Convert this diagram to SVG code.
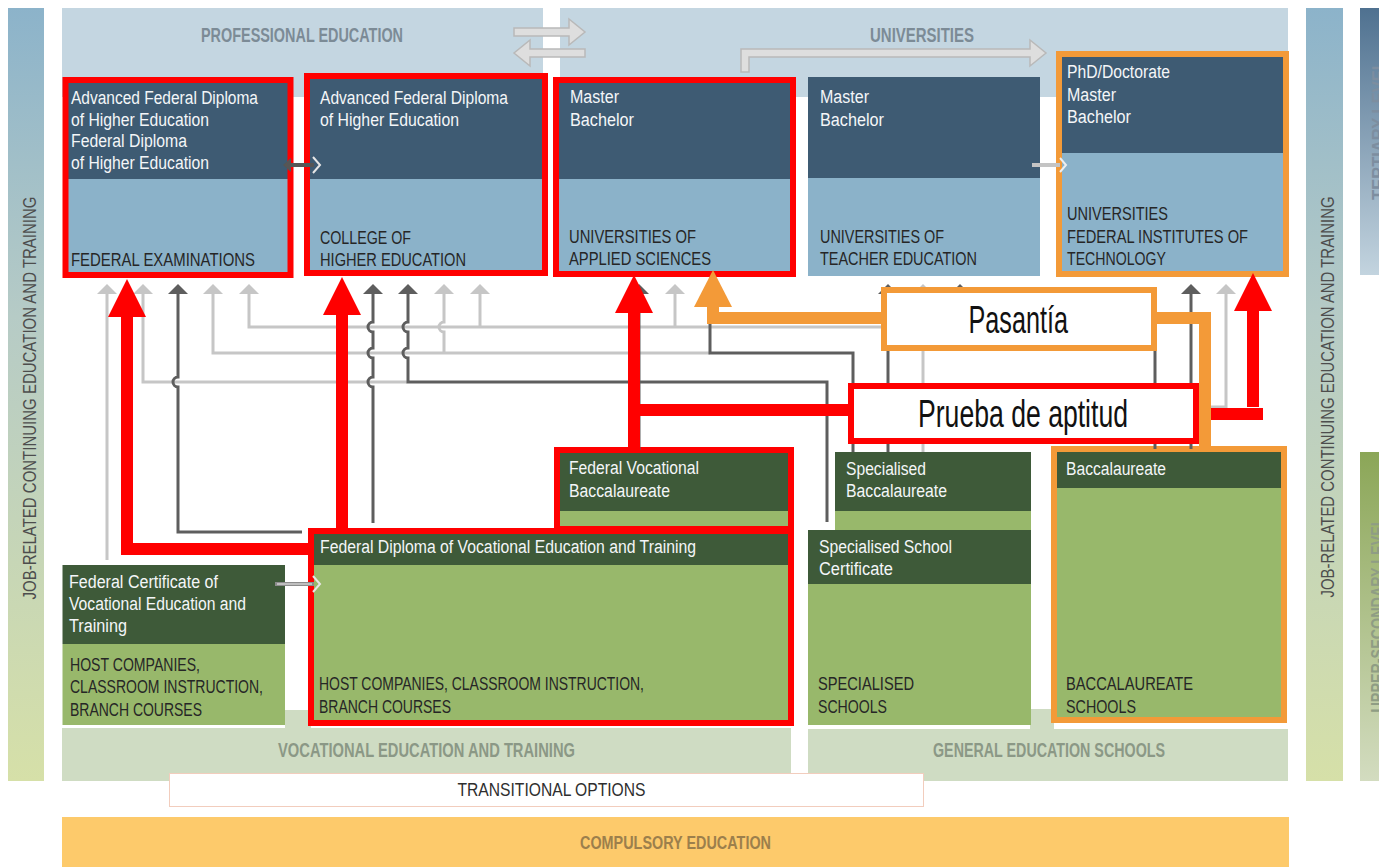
<svg xmlns="http://www.w3.org/2000/svg" width="1379" height="867" viewBox="0 0 1379 867">
<defs>
<linearGradient id="gSide" x1="0" y1="0" x2="0" y2="1">
<stop offset="0" stop-color="#8cb3ca"/><stop offset="0.4" stop-color="#b6cbc6"/><stop offset="1" stop-color="#d6e0a8"/>
</linearGradient>
<linearGradient id="gTert" x1="0" y1="0" x2="0" y2="1">
<stop offset="0" stop-color="#4f7190"/><stop offset="1" stop-color="#c3d4df"/>
</linearGradient>
<linearGradient id="gSec" x1="0" y1="0" x2="0" y2="1">
<stop offset="0" stop-color="#8ba657"/><stop offset="1" stop-color="#d3dcc0"/>
</linearGradient>
<marker id="ahL" markerUnits="userSpaceOnUse" markerWidth="12" markerHeight="22" refX="0" refY="10" orient="auto" overflow="visible"><path d="M0,0 L10,10 L0,20 Z" fill="#c6c6c6"/></marker>
<marker id="ahD" markerUnits="userSpaceOnUse" markerWidth="12" markerHeight="22" refX="0" refY="10" orient="auto" overflow="visible"><path d="M0,0 L10,10 L0,20 Z" fill="#5e5e5e"/></marker>
<marker id="ahR" markerUnits="userSpaceOnUse" markerWidth="40" markerHeight="40" refX="0" refY="19" orient="auto" overflow="visible"><path d="M0,0 L38,19 L0,38 Z" fill="#ff0000"/></marker>
<marker id="ahO" markerUnits="userSpaceOnUse" markerWidth="40" markerHeight="40" refX="0" refY="19" orient="auto" overflow="visible"><path d="M0,0 L37,19 L0,38 Z" fill="#f39a38"/></marker>
</defs>
<style>
text{font-family:"Liberation Sans",Arial,sans-serif}
.td{fill:#3e5b73}.tl{fill:#8bb2c9}.gd{fill:#3e5a39}.gl{fill:#98b86b}
.w{fill:#f4f6f8;font-size:18px}.k{fill:#262626;font-size:18px}
.hb{fill:#7c8b96;font-size:20px;font-weight:bold}.hg{fill:#8b9886;font-size:20px;font-weight:bold}
.side{fill:#4d4d4d;font-size:19px}
.red{fill:none;stroke:#ff0000}.org{fill:none;stroke:#f39a38}
.cl{fill:none;stroke:#c6c6c6;stroke-width:3}.cd{fill:none;stroke:#5e5e5e;stroke-width:3}
.big{fill:#111;font-size:38px}
</style>
<rect width="1379" height="867" fill="#ffffff"/>
<!-- side bars -->
<g id="side-left"><rect x="8" y="8" width="36" height="773" fill="url(#gSide)"/>
<text class="side" transform="translate(36,398) rotate(-90)" text-anchor="middle" textLength="403" lengthAdjust="spacingAndGlyphs">JOB-RELATED CONTINUING EDUCATION AND TRAINING</text></g>
<g id="side-right"><rect x="1306" y="8" width="37" height="773" fill="url(#gSide)"/>
<text class="side" transform="translate(1334,397) rotate(-90)" text-anchor="middle" textLength="401" lengthAdjust="spacingAndGlyphs">JOB-RELATED CONTINUING EDUCATION AND TRAINING</text></g>
<g id="level-tertiary"><rect x="1360" y="8" width="19" height="267" fill="url(#gTert)"/>
<text transform="translate(1385,130) rotate(-90)" text-anchor="middle" fill="#7d8ea0" font-size="18" font-weight="bold" textLength="140" lengthAdjust="spacingAndGlyphs">TERTIARY LEVEL</text></g>
<g id="level-upper-secondary"><rect x="1360" y="452" width="19" height="329" fill="url(#gSec)"/>
<text transform="translate(1384,615) rotate(-90)" text-anchor="middle" fill="#8f9d84" font-size="18" font-weight="bold" textLength="195" lengthAdjust="spacingAndGlyphs">UPPER-SECONDARY LEVEL</text></g>
<!-- bands -->
<g id="band-professional"><rect x="62" y="8" width="481" height="89" fill="#c4d6e1"/>
<text class="hb" x="201" y="42" textLength="202" lengthAdjust="spacingAndGlyphs">PROFESSIONAL EDUCATION</text></g>
<g id="band-universities"><rect x="560" y="8" width="728" height="89" fill="#c4d6e1"/>
<text class="hb" x="870" y="42" textLength="104" lengthAdjust="spacingAndGlyphs">UNIVERSITIES</text></g>
<g id="band-vet"><rect x="62" y="728" width="729" height="53" fill="#cfdcc3"/><rect x="285" y="710" width="26" height="20" fill="#cfdcc3"/>
<text class="hg" x="278" y="757" textLength="297" lengthAdjust="spacingAndGlyphs">VOCATIONAL EDUCATION AND TRAINING</text></g>
<g id="band-general"><rect x="808" y="729" width="480" height="52" fill="#cfdcc3"/><rect x="1030" y="709" width="24" height="22" fill="#cfdcc3"/>
<text class="hg" x="933" y="757" textLength="232" lengthAdjust="spacingAndGlyphs">GENERAL EDUCATION SCHOOLS</text></g>
<g id="transitional"><rect x="169.5" y="773.5" width="754" height="33" fill="#ffffff" stroke="#f2cdbd" stroke-width="1"/>
<text x="457.5" y="796" fill="#2e2e2e" font-size="18" textLength="188" lengthAdjust="spacingAndGlyphs">TRANSITIONAL OPTIONS</text></g>
<g id="compulsory"><rect x="62" y="817" width="1227" height="50" fill="#fdca6b"/>
<text x="580" y="849" fill="#9c7f4c" font-size="19" font-weight="bold" textLength="191" lengthAdjust="spacingAndGlyphs">COMPULSORY EDUCATION</text></g>
<!-- band arrows -->
<g id="band-arrows" fill="#dedede" stroke="#b9b9b9" stroke-width="1.5">
<polygon points="514,28 569,28 569,19 585,32 569,45 569,36 514,36"/>
<polygon points="585,49 530,49 530,40 514,53 530,66 530,57 585,57"/>
<path d="M741,72 L741,49 L1030,49 L1030,40 L1046,53 L1030,66 L1030,57 L749,57 L749,72 Z"/>
</g>
<!-- tertiary nodes -->
<g id="n-federal-exams">
<rect class="td" x="66" y="80" width="224" height="99"/><rect class="tl" x="66" y="179" width="224" height="96"/>
<text class="w" x="71" y="104" textLength="187" lengthAdjust="spacingAndGlyphs">Advanced Federal Diploma</text>
<text class="w" x="71" y="125.5" textLength="138" lengthAdjust="spacingAndGlyphs">of Higher Education</text>
<text class="w" x="71" y="147" textLength="116" lengthAdjust="spacingAndGlyphs">Federal Diploma</text>
<text class="w" x="71" y="168.5" textLength="138" lengthAdjust="spacingAndGlyphs">of Higher Education</text>
<text class="k" x="71" y="266" textLength="184" lengthAdjust="spacingAndGlyphs">FEDERAL EXAMINATIONS</text>
<rect class="red" x="65.5" y="80" width="225" height="195" stroke-width="6"/>
</g>
<g id="n-college">
<rect class="td" x="307" y="76" width="238" height="103"/><rect class="tl" x="307" y="179" width="238" height="95"/>
<text class="w" x="320" y="104" textLength="188" lengthAdjust="spacingAndGlyphs">Advanced Federal Diploma</text>
<text class="w" x="320" y="125.5" textLength="139" lengthAdjust="spacingAndGlyphs">of Higher Education</text>
<text class="k" x="320" y="244" textLength="91" lengthAdjust="spacingAndGlyphs">COLLEGE OF</text>
<text class="k" x="320" y="266" textLength="146" lengthAdjust="spacingAndGlyphs">HIGHER EDUCATION</text>
<rect class="red" x="307" y="76" width="238" height="197" stroke-width="6"/>
</g>
<g id="n-uas">
<rect class="td" x="556" y="80" width="237" height="99"/><rect class="tl" x="556" y="179" width="237" height="95"/>
<text class="w" x="570" y="103" textLength="49" lengthAdjust="spacingAndGlyphs">Master</text>
<text class="w" x="570" y="125.5" textLength="64" lengthAdjust="spacingAndGlyphs">Bachelor</text>
<text class="k" x="569" y="243" textLength="127" lengthAdjust="spacingAndGlyphs">UNIVERSITIES OF</text>
<text class="k" x="569" y="265" textLength="142" lengthAdjust="spacingAndGlyphs">APPLIED SCIENCES</text>
<rect class="red" x="556" y="80" width="237" height="194" stroke-width="6"/>
</g>
<g id="n-ute">
<rect class="td" x="808" y="77" width="232" height="101"/><rect class="tl" x="808" y="178" width="232" height="98"/>
<text class="w" x="820" y="103" textLength="49" lengthAdjust="spacingAndGlyphs">Master</text>
<text class="w" x="820" y="125.5" textLength="64" lengthAdjust="spacingAndGlyphs">Bachelor</text>
<text class="k" x="820" y="243" textLength="124" lengthAdjust="spacingAndGlyphs">UNIVERSITIES OF</text>
<text class="k" x="820" y="265" textLength="157" lengthAdjust="spacingAndGlyphs">TEACHER EDUCATION</text>
</g>
<g id="n-universities">
<rect class="td" x="1059" y="54" width="227" height="99"/><rect class="tl" x="1059" y="153" width="227" height="121"/>
<text class="w" x="1067" y="78" textLength="103" lengthAdjust="spacingAndGlyphs">PhD/Doctorate</text>
<text class="w" x="1067" y="101" textLength="49" lengthAdjust="spacingAndGlyphs">Master</text>
<text class="w" x="1067" y="123" textLength="64" lengthAdjust="spacingAndGlyphs">Bachelor</text>
<text class="k" x="1067" y="220" textLength="101" lengthAdjust="spacingAndGlyphs">UNIVERSITIES</text>
<text class="k" x="1067" y="243" textLength="181" lengthAdjust="spacingAndGlyphs">FEDERAL INSTITUTES OF</text>
<text class="k" x="1067" y="265" textLength="99" lengthAdjust="spacingAndGlyphs">TECHNOLOGY</text>
<rect class="org" x="1059" y="54" width="227" height="220" stroke-width="6"/>
</g>
<!-- secondary nodes -->
<g id="n-federal-certificate">
<rect class="gd" x="62.5" y="565" width="222.5" height="79"/><rect class="gl" x="62.5" y="644" width="222.5" height="81"/>
<text class="w" x="69" y="588" textLength="149" lengthAdjust="spacingAndGlyphs">Federal Certificate of</text>
<text class="w" x="69" y="610" textLength="177" lengthAdjust="spacingAndGlyphs">Vocational Education and</text>
<text class="w" x="69" y="632" textLength="58" lengthAdjust="spacingAndGlyphs">Training</text>
<text class="k" x="70" y="671" textLength="130" lengthAdjust="spacingAndGlyphs">HOST COMPANIES,</text>
<text class="k" x="70" y="693" textLength="193" lengthAdjust="spacingAndGlyphs">CLASSROOM INSTRUCTION,</text>
<text class="k" x="70" y="716" textLength="132" lengthAdjust="spacingAndGlyphs">BRANCH COURSES</text>
</g>
<g id="n-federal-diploma">
<rect class="gd" x="311" y="531" width="480" height="34"/><rect class="gl" x="311" y="565" width="480" height="158"/>
<text class="w" x="320" y="553" textLength="376" lengthAdjust="spacingAndGlyphs">Federal Diploma of Vocational Education and Training</text>
<text class="k" x="319" y="690" textLength="325" lengthAdjust="spacingAndGlyphs">HOST COMPANIES, CLASSROOM INSTRUCTION,</text>
<text class="k" x="319" y="713" textLength="132" lengthAdjust="spacingAndGlyphs">BRANCH COURSES</text>
<rect class="red" x="311" y="531" width="480" height="192" stroke-width="6"/>
</g>
<g id="n-federal-vocational-baccalaureate">
<rect class="gd" x="557" y="450" width="234" height="61"/><rect class="gl" x="557" y="511" width="234" height="18"/>
<text class="w" x="569" y="474" textLength="130" lengthAdjust="spacingAndGlyphs">Federal Vocational</text>
<text class="w" x="569" y="497" textLength="101" lengthAdjust="spacingAndGlyphs">Baccalaureate</text>
<rect class="red" x="557" y="450" width="234" height="79" stroke-width="6"/>
</g>
<g id="n-specialised-baccalaureate">
<rect class="gd" x="835" y="452" width="196" height="59"/><rect class="gl" x="835" y="511" width="196" height="19"/>
<text class="w" x="846" y="475" textLength="80" lengthAdjust="spacingAndGlyphs">Specialised</text>
<text class="w" x="846" y="497" textLength="101" lengthAdjust="spacingAndGlyphs">Baccalaureate</text>
</g>
<g id="n-specialised-school">
<rect class="gd" x="808" y="530" width="223" height="54"/><rect class="gl" x="808" y="584" width="223" height="141"/>
<text class="w" x="819" y="553" textLength="133" lengthAdjust="spacingAndGlyphs">Specialised School</text>
<text class="w" x="819" y="575" textLength="74" lengthAdjust="spacingAndGlyphs">Certificate</text>
<text class="k" x="818" y="690" textLength="96" lengthAdjust="spacingAndGlyphs">SPECIALISED</text>
<text class="k" x="818" y="713" textLength="69" lengthAdjust="spacingAndGlyphs">SCHOOLS</text>
</g>
<g id="n-baccalaureate">
<rect class="gd" x="1054" y="449" width="230" height="39"/><rect class="gl" x="1054" y="488" width="230" height="232"/>
<text class="w" x="1066" y="475" textLength="100" lengthAdjust="spacingAndGlyphs">Baccalaureate</text>
<text class="k" x="1066" y="690" textLength="127" lengthAdjust="spacingAndGlyphs">BACCALAUREATE</text>
<text class="k" x="1066" y="713" textLength="70" lengthAdjust="spacingAndGlyphs">SCHOOLS</text>
<rect class="org" x="1054" y="449" width="230" height="271" stroke-width="6"/>
</g>
<!-- connectors -->
<g id="connectors">
<g id="pathway-lines">
<path class="cl" d="M107,560 L107,294" marker-end="url(#ahL)"/>
<path class="cl" d="M407,382 L143,382 L143,294" marker-end="url(#ahL)"/>
<path class="cl" d="M710,353 L213,353 L213,294" marker-end="url(#ahL)"/>
<path class="cl" d="M883,327 L249,327 L249,294" marker-end="url(#ahL)"/>
<path class="cl" d="M444,353 L444,332 A5,5 0 0 1 444,322 L444,294" marker-end="url(#ahL)"/>
<path class="cl" d="M480,327 L480,294" marker-end="url(#ahL)"/>
<path class="cl" d="M675,327 L675,294" marker-end="url(#ahL)"/>
<path class="cl" d="M923,452 L923,294" marker-end="url(#ahL)"/>
<path class="cl" d="M1205,407 L1226,407 L1226,294" marker-end="url(#ahL)"/>
<path class="cd" d="M302,532 L178,532 L178,387 A5,5 0 0 1 178,377 L178,294" marker-end="url(#ahD)"/>
<path class="cd" d="M373,523 L373,387 A5,5 0 0 1 373,377 L373,358 A5,5 0 0 1 373,348 L373,332 A5,5 0 0 1 373,322 L373,294" marker-end="url(#ahD)"/>
<path class="cd" d="M827,522 L827,382 L408,382 L408,358 A5,5 0 0 1 408,348 L408,332 A5,5 0 0 1 408,322 L408,294" marker-end="url(#ahD)"/>
<path class="cd" d="M639,450 L639,294" marker-end="url(#ahD)"/>
<path class="cd" d="M853,452 L853,353 L710,353 L710,318"/>
<path class="cd" d="M888,452 L888,294" marker-end="url(#ahD)"/>
<path class="cd" d="M1155,449 L1155,340 L960,340 L960,294" marker-end="url(#ahD)"/>
<path class="cd" d="M1191,449 L1191,294" marker-end="url(#ahD)"/>
</g>
<g id="permeability-arrows">
<line x1="288" y1="165" x2="314" y2="165" stroke="#565656" stroke-width="4"/>
<polygon points="283,165 291,158 291,172" fill="#565656"/>
<polyline points="313,157 320,165 313,173" fill="none" stroke="#e6e6e6" stroke-width="2"/>
<line x1="1032" y1="165" x2="1060" y2="165" stroke="#c4c4c4" stroke-width="4"/>
<polyline points="1060,158 1066,165 1060,172" fill="none" stroke="#eeeeee" stroke-width="2"/>
<line x1="275" y1="584" x2="314" y2="584" stroke="#8c8c8c" stroke-width="4"/>
<line x1="277" y1="584" x2="312" y2="584" stroke="#d0d0d0" stroke-width="1.5"/>
<polyline points="313,576 320,584 313,592" fill="none" stroke="#e6e6e6" stroke-width="2"/>
</g>
<g id="highlight-arrows" stroke-linejoin="miter" stroke-linecap="butt">
<path class="red" stroke-width="12" d="M313,549 L127,549 L127,317" marker-end="url(#ahR)"/>
<path class="red" stroke-width="12" d="M342,529 L342,315" marker-end="url(#ahR)"/>
<path class="red" stroke-width="12" d="M634,452 L634,313" marker-end="url(#ahR)"/>
<path class="red" stroke-width="12" d="M628,410 L852,410"/>
<path class="red" stroke-width="12" d="M1196,414 L1263,414"/>
<path class="red" stroke-width="12" d="M1253,407 L1253,311" marker-end="url(#ahR)"/>
<path class="org" stroke-width="12" d="M884,318 L713,318 L713,307" marker-end="url(#ahO)"/>
<path class="org" stroke-width="12" d="M1154,318 L1205,318 L1205,452"/>
</g>
</g>
<!-- annotation nodes -->
<g id="n-pasantia">
<rect x="884" y="290" width="270" height="58" fill="#ffffff" stroke="#f39a38" stroke-width="6"/>
<text class="big" x="968.5" y="333" textLength="99.5" lengthAdjust="spacingAndGlyphs">Pasantía</text>
</g>
<g id="n-prueba">
<rect x="851" y="386" width="345" height="55" fill="#ffffff" stroke="#ff0000" stroke-width="6"/>
<text class="big" x="918" y="427" textLength="210" lengthAdjust="spacingAndGlyphs">Prueba de aptitud</text>
</g>
</svg>
